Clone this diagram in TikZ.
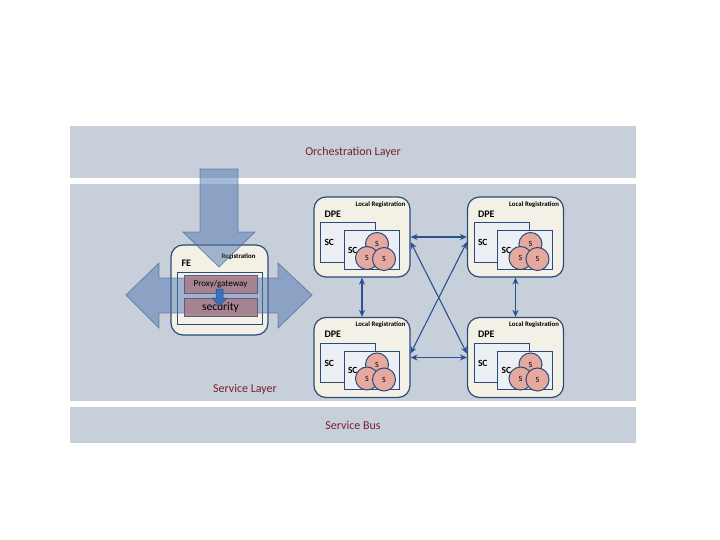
\documentclass[tikz,border=0pt]{standalone}
\usepackage{fontspec}
\setmainfont{Carlito}
\usepackage{tikz}
\usetikzlibrary{positioning}
\usetikzlibrary{arrows.meta}
\tikzset{>={Stealth[width=6pt,length=7pt]}}
\definecolor{bandgrey}{RGB}{199,207,219}
\definecolor{labelred}{RGB}{123,30,46}
\definecolor{boxblue}{RGB}{45,74,120}
\definecolor{cream}{RGB}{243,241,230}
\definecolor{scgrey}{RGB}{236,239,244}
\definecolor{salmon}{RGB}{230,169,160}
\definecolor{linkblue}{RGB}{42,82,145}
\definecolor{flowblue}{RGB}{80,118,175}
\definecolor{proxymauve}{RGB}{166,126,140}
\definecolor{tinyblue}{RGB}{60,110,190}

\begin{document}
\begin{tikzpicture}[x=1pt, y=-1pt, band/.style={rectangle, fill=bandgrey, minimum width=566pt, text=labelred, font=\fontsize{12}{14}\selectfont}, layertext/.style={text=labelred, font=\fontsize{12}{14}\selectfont}, dpe/.style={rectangle, rounded corners=12pt, draw=boxblue, line width=1.2pt, fill=cream, minimum width=96pt, minimum height=80pt}, scbox/.style={rectangle, draw=boxblue, line width=1pt, fill=scgrey, minimum width=55pt, minimum height=38pt, text width=47pt, inner xsep=4pt, align=left, font=\bfseries\fontsize{9.5}{10}\selectfont}, svc/.style={circle, draw=boxblue, line width=1pt, fill=salmon, minimum size=23pt, inner sep=0pt, font=\fontsize{8}{9}\selectfont}, smalltag/.style={inner sep=1pt, font=\bfseries\fontsize{6.8}{7}\selectfont}, tag/.style={inner sep=1pt, font=\bfseries\fontsize{10}{11}\selectfont}, gate/.style={rectangle, draw=boxblue!60!proxymauve, fill=proxymauve, fill opacity=0.9, text opacity=1, minimum width=73pt, minimum height=18pt, inner sep=0pt}, link/.style={<->, draw=linkblue, line width=1.1pt}, bigarrow/.style={fill=flowblue, fill opacity=0.5, draw=flowblue!80!black, draw opacity=0.6, line width=0.8pt}]

    %Nodes
    \useasboundingbox (0,0) rectangle (720,540);
    \node[band, minimum height=52pt](orch) at (353,152){Orchestration Layer};
    \node[band, minimum height=217pt](service) at (353,292.5){};
    \node[band, minimum height=36pt](bus) at (353,425){Service Bus};
    \node[layertext](servicetext) at (245,389){Service Layer};

    %FE
    \node[dpe, minimum width=97pt, minimum height=90pt](fe) at (219.5,290){};
    \node[smalltag, anchor=north east](feReg) at ([shift={(-12,8)}]fe.north east){Registration};
    \node[tag, anchor=north west](feTag) at ([shift={(10,14)}]fe.north west){FE};
    \node[rectangle, draw=boxblue, line width=1pt, minimum width=85pt, minimum height=52pt](feInner) at (219.5,298){};

    %DPE top left
    \node[dpe](dpeA) at (362,237){};
    \node[smalltag, anchor=north east](regA) at ([shift={(-4,4)}]dpeA.north east){Local Registration};
    \node[tag, anchor=north west](tagA) at ([shift={(10,13)}]dpeA.north west){DPE};
    \node[scbox, minimum width=54pt, minimum height=39pt](scA1) at ([shift={(-14,5.5)}]dpeA.center){SC};
    \node[scbox](scA2) at ([shift={(9.5,13)}]dpeA.center){SC};
    \node[svc](sA1) at ([shift={(15,7)}]dpeA.center){S};
    \node[svc](sA2) at ([shift={(5,21)}]dpeA.center){S};
    \node[svc](sA3) at ([shift={(22,22)}]dpeA.center){S};

    %DPE top right
    \node[dpe](dpeB) at (515.5,237){};
    \node[smalltag, anchor=north east](regB) at ([shift={(-4,4)}]dpeB.north east){Local Registration};
    \node[tag, anchor=north west](tagB) at ([shift={(10,13)}]dpeB.north west){DPE};
    \node[scbox, minimum width=54pt, minimum height=39pt](scB1) at ([shift={(-14,5.5)}]dpeB.center){SC};
    \node[scbox](scB2) at ([shift={(9.5,13)}]dpeB.center){SC};
    \node[svc](sB1) at ([shift={(15,7)}]dpeB.center){S};
    \node[svc](sB2) at ([shift={(5,21)}]dpeB.center){S};
    \node[svc](sB3) at ([shift={(22,22)}]dpeB.center){S};

    %DPE bottom left
    \node[dpe](dpeC) at (362,357.5){};
    \node[smalltag, anchor=north east](regC) at ([shift={(-4,4)}]dpeC.north east){Local Registration};
    \node[tag, anchor=north west](tagC) at ([shift={(10,13)}]dpeC.north west){DPE};
    \node[scbox, minimum width=54pt, minimum height=39pt](scC1) at ([shift={(-14,5.5)}]dpeC.center){SC};
    \node[scbox](scC2) at ([shift={(9.5,13)}]dpeC.center){SC};
    \node[svc](sC1) at ([shift={(15,7)}]dpeC.center){S};
    \node[svc](sC2) at ([shift={(5,21)}]dpeC.center){S};
    \node[svc](sC3) at ([shift={(22,22)}]dpeC.center){S};

    %DPE bottom right
    \node[dpe](dpeD) at (515.5,357.5){};
    \node[smalltag, anchor=north east](regD) at ([shift={(-4,4)}]dpeD.north east){Local Registration};
    \node[tag, anchor=north west](tagD) at ([shift={(10,13)}]dpeD.north west){DPE};
    \node[scbox, minimum width=54pt, minimum height=39pt](scD1) at ([shift={(-14,5.5)}]dpeD.center){SC};
    \node[scbox](scD2) at ([shift={(9.5,13)}]dpeD.center){SC};
    \node[svc](sD1) at ([shift={(15,7)}]dpeD.center){S};
    \node[svc](sD2) at ([shift={(5,21)}]dpeD.center){S};
    \node[svc](sD3) at ([shift={(22,22)}]dpeD.center){S};

    %Lines
    \draw[link] (dpeA) -- (dpeB);
    \draw[link] (dpeC) -- (dpeD);
    \draw[link] (dpeA) -- (dpeC);
    \draw[link] (dpeB) -- (dpeD);
    \draw[link] ([yshift=-5pt]dpeA.east) -- ([yshift=4pt]dpeD.west);
    \draw[link] ([yshift=4pt]dpeC.east) -- ([yshift=-5pt]dpeB.west);

    %Big arrows
    \filldraw[bigarrow] (200,169) -- (238,169) -- (238,232) -- (255,232) -- (219,267) -- (183,232) -- (200,232) -- cycle;
    \filldraw[bigarrow] (126,295) -- (159,263) -- (159,278) -- (278,278) -- (278,263) -- (312,295) -- (278,328) -- (278,313) -- (159,313) -- (159,328) -- cycle;

    %Gateway boxes on top
    \node[gate, font=\fontsize{9}{10}\selectfont](proxy) at (220.5,284){Proxy/gateway};
    \node[gate, font=\fontsize{11.5}{12}\selectfont](security)[below=5pt of proxy]{security};
    \filldraw[fill=tinyblue, draw=tinyblue!70!black, line width=0.5pt] (216,289) -- (223,289) -- (223,298) -- (227,298) -- (219.5,306) -- (212,298) -- (216,298) -- cycle;

\end{tikzpicture}
\end{document}
